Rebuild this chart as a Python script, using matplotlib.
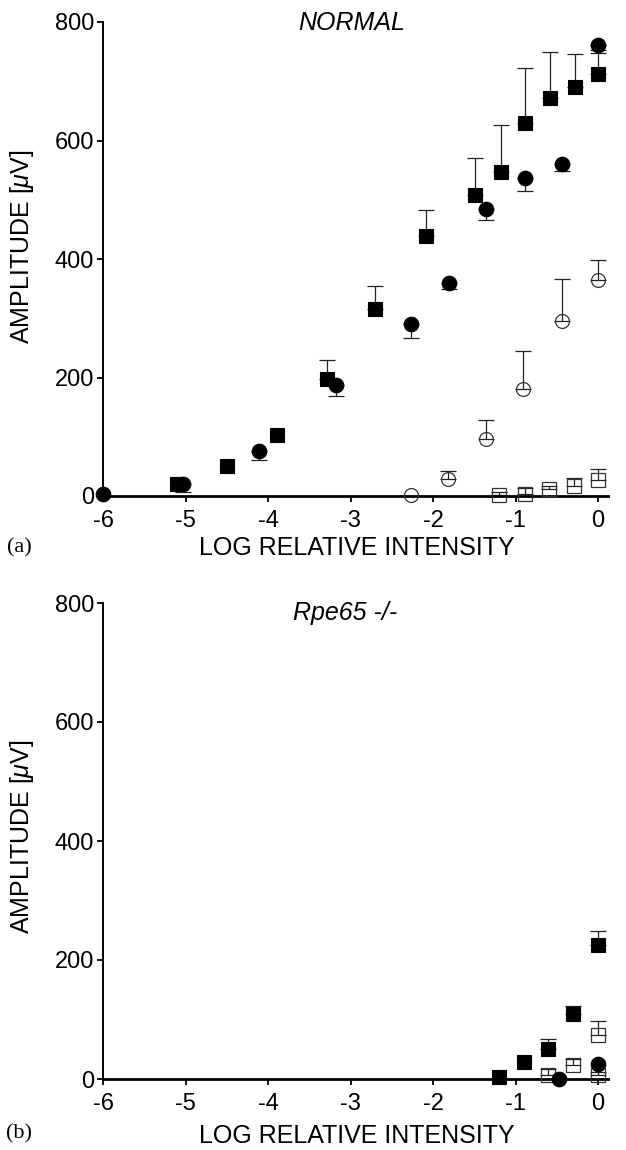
import numpy as np
import matplotlib
matplotlib.use("Agg")
import matplotlib.pyplot as plt

plt.rcParams['font.family'] = ['Liberation Sans', 'DejaVu Sans']
plt.rcParams['mathtext.fontset'] = 'custom'
plt.rcParams['mathtext.it'] = 'Liberation Sans:italic'
plt.rcParams['mathtext.rm'] = 'Liberation Sans'

# ---------------- data ----------------
x_ticks = [-6, -5, -4, -3, -2, -1, 0]
y_ticks = [0, 200, 400, 600, 800]

# (a) NORMAL
a_sq_x = [-5.10, -4.50, -3.89, -3.29, -2.70, -2.08, -1.49, -1.18, -0.88, -0.58, -0.28, 0.0]
a_sq_y = [21, 51, 103, 197, 315, 439, 508, 547, 630, 671, 690, 712]
a_sq_err = [0, 0, 0, 32, 40, 44, 63, 79, 92, 79, 56, 35]

a_ci_x = [-6.0, -5.03, -4.11, -3.18, -2.27, -1.81, -1.36, -0.89, -0.44, 0.0]
a_ci_y = [3, 20, 76, 187, 291, 359, 484, 537, 561, 762]
a_ci_err = [0, 14, 16, 19, 25, 10, 18, 23, 13, 9]

a_oc_x = [-2.27, -1.82, -1.36, -0.91, -0.44, 0.0]
a_oc_y = [1, 28, 96, 181, 295, 365]
a_oc_err = [0, 15, 33, 63, 71, 34]

a_os_x = [-1.20, -0.89, -0.59, -0.29, 0.0]
a_os_y = [1, 3, 11, 17, 27]
a_os_err = [5, 10, 6, 14, 18]

# (b) Rpe65 -/-
b_sq_x = [-1.20, -0.90, -0.61, -0.31, 0.0]
b_sq_y = [4, 29, 50, 110, 226]
b_sq_err = [0, 0, 18, 13, 22]

b_ci_x = [-0.47, 0.0]
b_ci_y = [0, 26]
b_ci_err = [0, 0]

b_os_x = [-0.61, -0.31, 0.0, 0.0]
b_os_y = [7, 23, 74, 7]
b_os_err = [10, 10, 23, 5]

# ---------------- figure ----------------
W, H = 626, 1150
fig = plt.figure(figsize=(W / 100, H / 100), dpi=100)

def px_axes(left, right, top, bottom):
    return [left / W, 1 - bottom / H, (right - left) / W, (bottom - top) / H]

ax_a = fig.add_axes(px_axes(103, 608, 22, 496))
ax_b = fig.add_axes(px_axes(103, 608, 603, 1079))

ERR_KW = dict(ecolor='#222222', elinewidth=0.9, capsize=5.5, capthick=0.9)


def draw_series(ax, x, y, err, marker, filled, direction, ms):
    x = np.asarray(x, float)
    y = np.asarray(y, float)
    err = np.asarray(err, float)
    m = err > 0
    if m.any():
        if direction == 'up':
            yerr = [np.zeros(m.sum()), err[m]]
        else:
            yerr = [err[m], np.zeros(m.sum())]
        eb = ax.errorbar(x[m], y[m], yerr=yerr, fmt='none', zorder=2, **ERR_KW)
        for art in eb.get_children():
            art.set_clip_on(False)
    if filled:
        ax.plot(x, y, linestyle='none', marker=marker, ms=ms, mfc='black',
                mec='black', mew=0.8, zorder=3, clip_on=False)
    else:
        ax.plot(x, y, linestyle='none', marker=marker, ms=ms, mfc='none',
                mec='#333333', mew=0.9, zorder=3, clip_on=False)


def style_axes(ax):
    ax.set_xlim(-6, 0.12)
    ax.set_ylim(0, 800)
    ax.set_xticks(x_ticks)
    ax.set_yticks(y_ticks)
    ax.set_xticklabels([str(t) for t in x_ticks])
    ax.set_yticklabels([str(t) for t in y_ticks])
    ax.spines['top'].set_visible(False)
    ax.spines['right'].set_visible(False)
    ax.spines['left'].set_linewidth(1.4)
    ax.spines['bottom'].set_linewidth(2.0)
    ax.tick_params(axis='both', direction='out', length=4, width=1.3,
                   labelsize=17, colors='black')
    ax.tick_params(axis='y', pad=2.5)
    ax.tick_params(axis='x', pad=6.0)
    ax.patch.set_visible(False)


# panel a
draw_series(ax_a, a_sq_x, a_sq_y, a_sq_err, 's', True, 'up', 10.3)
draw_series(ax_a, a_ci_x, a_ci_y, a_ci_err, 'o', True, 'down', 10.5)
draw_series(ax_a, a_oc_x, a_oc_y, a_oc_err, 'o', False, 'up', 10)
draw_series(ax_a, a_os_x, a_os_y, a_os_err, 's', False, 'up', 10)
style_axes(ax_a)

# panel b
draw_series(ax_b, b_sq_x, b_sq_y, b_sq_err, 's', True, 'up', 10.3)
draw_series(ax_b, b_os_x, b_os_y, b_os_err, 's', False, 'up', 10)
draw_series(ax_b, b_ci_x, b_ci_y, b_ci_err, 'o', True, 'down', 10.5)
style_axes(ax_b)

def fy(p):
    return 1 - p / H

# titles
fig.text(352 / W, fy(23), 'NORMAL', ha='center', va='center', fontsize=18, style='italic')
fig.text(345 / W, fy(613), 'Rpe65 -/-', ha='center', va='center', fontsize=18, style='italic')

# y labels
ylab = r'AMPLITUDE [$\mathit{\mu}$V]'
fig.text(22 / W, fy(247), ylab, ha='center', va='center', rotation=90, fontsize=18)
fig.text(22 / W, fy(837), ylab, ha='center', va='center', rotation=90, fontsize=18)

# x labels
fig.text(357 / W, fy(548), 'LOG RELATIVE INTENSITY', ha='center', va='center', fontsize=18)
fig.text(357 / W, fy(1136), 'LOG RELATIVE INTENSITY', ha='center', va='center', fontsize=18)

# panel letters
fig.text(19 / W, fy(548), '(a)', ha='center', va='center', fontsize=16,
         family=['Liberation Serif', 'DejaVu Serif'])
fig.text(19 / W, fy(1134), '(b)', ha='center', va='center', fontsize=16,
         family=['Liberation Serif', 'DejaVu Serif'])

fig.savefig('out.png', dpi=100)
